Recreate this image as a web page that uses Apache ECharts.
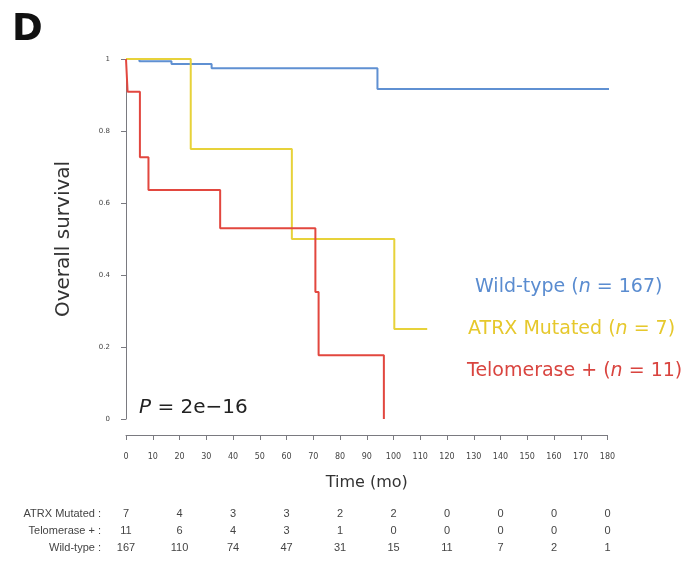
<!DOCTYPE html>
<html><head><meta charset="utf-8">
<script src="https://cdn.jsdelivr.net/npm/echarts@6/dist/echarts.min.js"></script>
<style>html,body{margin:0;padding:0;background:#fff}#c{width:697px;height:563px}</style>
</head><body><div id="c"></div>
<script>
// Kaplan-Meier step data: [time (months), survival after the step]
const wildType = [[0,1],[5,0.994],[17,0.986],[32,0.974],[94,0.917],[182,0.917]];
const atrxMutated = [[0,1],[24.2,0.75],[62,0.5],[100.3,0.25],[112.6,0.25]];
const telomerase = [[0,1],[0.6,0.909],[5.2,0.727],[8.4,0.636],[35.2,0.53],[70.8,0.353],[72,0.177],[96.4,0]];

// Numbers at risk (at 0, 20, ..., 180 months)
const riskATRX = [7,4,3,3,2,2,0,0,0,0];
const riskTelo = [11,6,4,3,1,0,0,0,0,0];
const riskWT = [167,110,74,47,31,15,11,7,2,1];
const riskRowLabels = ['ATRX Mutated :', 'Telomerase + :', 'Wild-type :'];

const seriesNames = ['Wild-type', 'ATRX Mutated', 'Telomerase +'];
const seriesN = [167, 7, 11];
const lineColors = ['#5f90d2', '#e7d23a', '#e2473f'];
const textColors = ['#5a8cd0', '#e6c82c', '#d9443f'];
const pText = '2e\u221216';

const chart = echarts.init(document.getElementById('c'), null, {renderer: 'canvas'});
const axisGrey = '#7a7a80';
const dv = '"DejaVu Sans", Verdana, sans-serif';
const narrow = '"Liberation Sans Narrow", "Arial Narrow", "Liberation Sans", sans-serif';

function riskAxis(arr, offset) {
  return {
    type: 'value', gridIndex: 0, position: 'bottom', min: 0, max: 180, interval: 20, offset: offset,
    axisLine: {show: false, onZero: false}, axisTick: {show: false}, splitLine: {show: false},
    axisLabel: {margin: 0, fontSize: 11, color: '#444', fontFamily: narrow,
      formatter: v => String(arr[Math.round(v / 20)])}
  };
}

const legendLeft = [475, 468, 467];
const legendGraphics = seriesNames.map((nm, i) => ({
  type: 'text', left: legendLeft[i], top: 278 + i * 42,
  style: {
    text: '{a|' + nm + ' (}{i|n}{a| = ' + seriesN[i] + ')}',
    rich: {
      a: {fill: textColors[i], fontSize: 19, fontFamily: dv},
      i: {fill: textColors[i], fontSize: 19, fontStyle: 'italic', fontFamily: dv}
    }
  }
}));

const rowGraphics = riskRowLabels.map((t, i) => ({
  type: 'text', right: 697 - 101, top: 508 + i * 17,
  style: {text: t, fill: '#444', fontSize: 11, fontFamily: narrow, align: 'right'}
}));

const option = {
  animation: false,
  backgroundColor: '#fff',
  grid: {left: 126, right: 89.5, top: 59, bottom: 144, containLabel: false},
  xAxis: [
    {
      type: 'value', min: 0, max: 180, interval: 10, offset: 16,
      name: 'Time (mo)', nameLocation: 'middle', nameGap: 40,
      nameTextStyle: {fontSize: 16, color: '#333', fontFamily: dv},
      axisLine: {show: true, onZero: false, lineStyle: {color: axisGrey, width: 1}},
      axisTick: {show: true, length: 5, lineStyle: {color: axisGrey}},
      splitLine: {show: false},
      axisLabel: {margin: 18, fontSize: 8, color: '#444', fontFamily: dv}
    },
    riskAxis(riskATRX, 89),
    riskAxis(riskTelo, 106),
    riskAxis(riskWT, 123)
  ],
  yAxis: {
    type: 'value', min: 0, max: 1, interval: 0.2,
    name: 'Overall survival', nameLocation: 'middle', nameGap: 52, nameRotate: 90,
    nameTextStyle: {fontSize: 20, color: '#333', fontFamily: dv},
    axisLine: {show: true, onZero: false, lineStyle: {color: axisGrey, width: 1}},
    axisTick: {show: true, length: 5, lineStyle: {color: axisGrey}},
    splitLine: {show: false},
    axisLabel: {margin: 16, fontSize: 7, color: '#444', fontFamily: dv}
  },
  series: [wildType, atrxMutated, telomerase].map((d, i) => ({
    name: seriesNames[i], type: 'line', step: 'end', data: d, xAxisIndex: 0,
    showSymbol: false, clip: false, silent: true,
    lineStyle: {color: lineColors[i], width: 2}
  })),
  graphic: [
    {type: 'text', left: 12, top: 12,
     style: {text: 'D', fill: '#111', fontSize: 37, fontWeight: 'bold', fontFamily: dv}},
    {type: 'text', left: 139, top: 398,
     style: {text: '{i|P}{a| = ' + pText + '}',
       rich: {
         i: {fill: '#222', fontSize: 20, fontStyle: 'italic', fontFamily: dv},
         a: {fill: '#222', fontSize: 20, fontFamily: dv}
       }}}
  ].concat(legendGraphics, rowGraphics)
};
chart.setOption(option);
</script></body></html>
